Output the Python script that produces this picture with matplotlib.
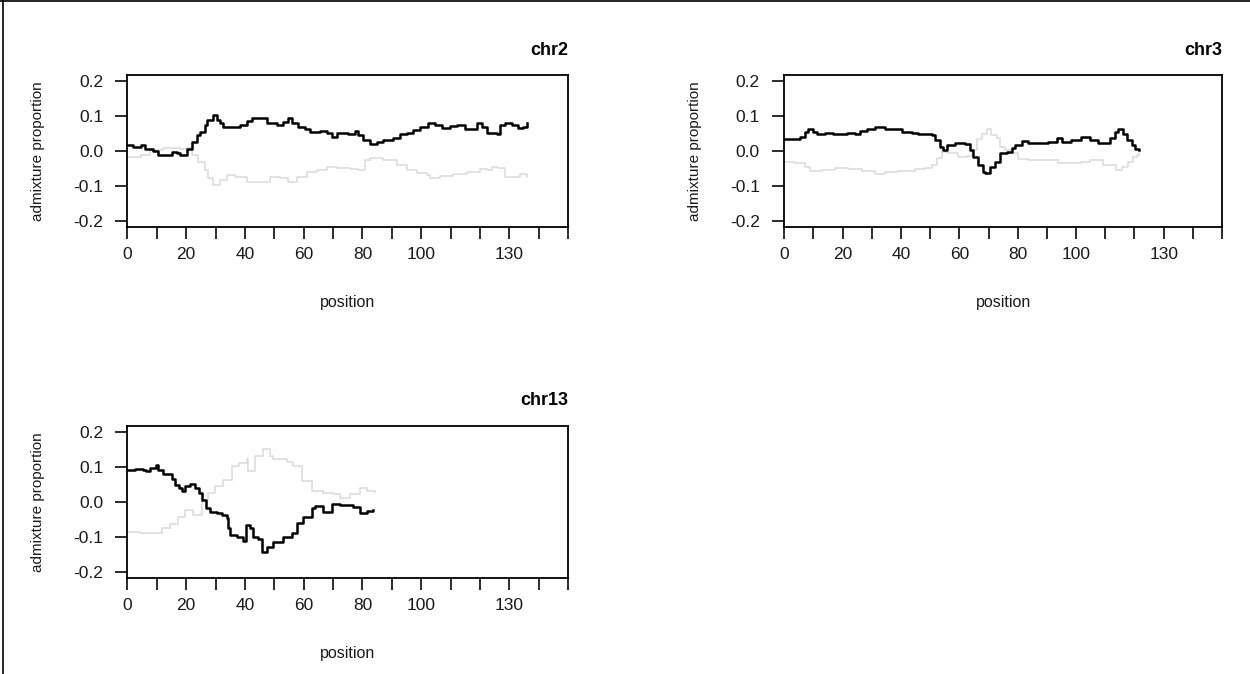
import numpy as np
import matplotlib
matplotlib.use("Agg")
import matplotlib.pyplot as plt
from matplotlib.lines import Line2D

plt.rcParams['font.family'] = ['Liberation Sans', 'DejaVu Sans']

# chr2
chr2_x = [0, 2, 4.5, 6, 8.8, 10.5, 13.3, 15, 16.7, 17.9, 19.6, 20.1, 21.9, 23.6, 24.7, 26.4, 27.2, 29,
          30.4, 31.5, 32.6, 34.9, 38.3, 40.6, 42.3, 45.1, 47.4, 50.8, 53, 54.8, 55.9, 58.2, 60.4, 62.1,
          65.5, 67.8, 69.5, 71.2, 75.2, 77.5, 78.6, 80.3, 82.6, 84.8, 87.1, 90.5, 92.8, 95.1, 97.3, 99.6,
          102.4, 104.7, 107, 109.8, 112.1, 114.9, 117.2, 118.9, 120.6, 122.3, 125.7, 126.8, 128.5, 130.8,
          133, 134.8, 136.1]
chr2_black = [0.017, 0.012, 0.017, 0.005, 0.0, -0.01, -0.01, -0.002, -0.005, -0.01, -0.01, 0.005, 0.027,
              0.046, 0.055, 0.074, 0.09, 0.103, 0.09, 0.079, 0.068, 0.07, 0.074, 0.087, 0.093, 0.093, 0.079,
              0.074, 0.084, 0.093, 0.079, 0.07, 0.062, 0.055, 0.058, 0.052, 0.041, 0.052, 0.05, 0.058, 0.046,
              0.031, 0.02, 0.025, 0.031, 0.036, 0.05, 0.052, 0.06, 0.07, 0.079, 0.074, 0.065, 0.071, 0.074,
              0.062, 0.062, 0.079, 0.07, 0.052, 0.05, 0.074, 0.079, 0.074, 0.067, 0.07, 0.079]
chr2_gx = [0, 4.5, 7.7, 12.2, 17.9, 20, 21.9, 24.1, 26.4, 27.5, 29.2, 31.5, 33.8, 36.6, 40.6, 45.1, 48.5,
           51.9, 54.8, 57.6, 61, 64.4, 67.8, 71.2, 75.8, 78.6, 80.9, 82.6, 87.1, 91.7, 95.1, 98.5, 102,
           103, 106.4, 110.9, 115.5, 117.7, 120, 122.3, 124, 126.3, 128.5, 130.8, 133.6, 136]
chr2_grey = [-0.016, -0.01, 0.003, 0.008, 0.005, 0.008, -0.011, -0.03, -0.054, -0.078, -0.097, -0.083,
             -0.069, -0.075, -0.088, -0.09, -0.075, -0.078, -0.09, -0.073, -0.059, -0.054, -0.047, -0.048,
             -0.052, -0.054, -0.026, -0.021, -0.026, -0.04, -0.054, -0.064, -0.068, -0.078, -0.072, -0.067,
             -0.059, -0.059, -0.052, -0.054, -0.047, -0.048, -0.073, -0.075, -0.067, -0.075]

# chr3
chr3_x = [0, 3.7, 5.4, 7.1, 8, 9.9, 11.1, 13.9, 16.8, 19.7, 21.4, 24.2, 25.9, 28.2, 31.1, 33.3, 34.5, 37.3,
          40.2, 43.6, 45.9, 50.5, 51.6, 53.3, 54.5, 55.6, 58.5, 61.9, 63.6, 64.7, 66.4, 68.2, 68.8, 70.4,
          72.2, 73.9, 76.2, 77.9, 79, 81.3, 83.6, 87, 90.4, 93.3, 95, 98.4, 101.8, 102.4, 104.7, 107.5,
          109.8, 111.5, 113.3, 114.4, 116.1, 117.3, 119, 120.1, 121.6]
chr3_black = [0.033, 0.033, 0.039, 0.055, 0.063, 0.055, 0.05, 0.052, 0.05, 0.048, 0.052, 0.05, 0.058, 0.062,
              0.068, 0.068, 0.062, 0.062, 0.055, 0.052, 0.049, 0.046, 0.031, 0.012, 0.003, 0.017, 0.024,
              0.02, 0.003, -0.016, -0.04, -0.059, -0.064, -0.045, -0.031, -0.007, -0.002, 0.008, 0.017,
              0.03, 0.024, 0.024, 0.026, 0.036, 0.026, 0.031, 0.039, 0.041, 0.031, 0.022, 0.024, 0.036,
              0.055, 0.063, 0.05, 0.031, 0.017, 0.005, 0.003]
chr3_gx = [0, 3.7, 7.1, 8.8, 12.8, 17.4, 22, 26.5, 31.1, 34.5, 39, 44.8, 48.2, 50.5, 52.2, 53.9, 56.2, 59.6,
           62.5, 64.2, 65.9, 67.6, 69.3, 71, 72.8, 73.9, 75.6, 77.9, 80.1, 83.6, 87, 91.5, 93.8, 97.2,
           101.8, 104.7, 109.2, 113.8, 115.6, 117.8, 119.5, 120.7, 121.6]
chr3_grey = [-0.03, -0.035, -0.045, -0.056, -0.054, -0.049, -0.052, -0.056, -0.066, -0.06, -0.056, -0.052,
             -0.048, -0.04, -0.021, -0.002, -0.007, -0.018, -0.013, 0.003, 0.033, 0.05, 0.062, 0.046, 0.036,
             0.012, 0.003, -0.006, -0.024, -0.027, -0.025, -0.027, -0.035, -0.033, -0.03, -0.026, -0.04,
             -0.054, -0.045, -0.03, -0.016, -0.01, -0.005]

# chr13
chr13_x = [0, 2.6, 5.4, 6.2, 7.7, 9.7, 10.5, 12.2, 15, 16.2, 17.6, 18.5, 19.6, 21.3, 23, 24.4, 25.3, 26.7,
           28.1, 30.4, 32.1, 33.8, 34.3, 34.9, 37.2, 39.4, 40.3, 41.7, 42.8, 44.5, 45.7, 47.4, 49.6, 53,
           55.9, 57.6, 59.9, 62.7, 64, 66.7, 69.5, 72.3, 74.6, 76.9, 79.2, 81.4, 83.7]
chr13_black = [0.092, 0.094, 0.092, 0.087, 0.097, 0.104, 0.09, 0.078, 0.065, 0.049, 0.039, 0.03, 0.044,
               0.052, 0.039, 0.025, 0.006, -0.018, -0.028, -0.033, -0.037, -0.047, -0.076, -0.095, -0.1,
               -0.111, -0.066, -0.076, -0.1, -0.107, -0.143, -0.129, -0.114, -0.1, -0.09, -0.061, -0.042,
               -0.018, -0.012, -0.028, -0.006, -0.01, -0.008, -0.015, -0.033, -0.025, -0.023]
chr13_gx = [0, 4.3, 10.7, 11.6, 14.5, 17.3, 19.6, 22.4, 25.3, 27.5, 29.8, 32.6, 35.5, 37.8, 40.6, 41.2,
            43.4, 46.2, 48.5, 49.6, 54.2, 56.5, 59.3, 62.7, 66.7, 70.1, 72.3, 75.8, 79.2, 81.4, 84.2]
chr13_grey = [-0.086, -0.088, -0.09, -0.076, -0.063, -0.042, -0.023, -0.037, 0.006, 0.025, 0.044, 0.063,
              0.102, 0.111, 0.121, 0.087, 0.131, 0.15, 0.131, 0.121, 0.113, 0.102, 0.059, 0.03, 0.025,
              0.022, 0.012, 0.023, 0.039, 0.03, 0.027]

xticks = np.arange(0, 151, 10)
xlabels = {0: '0', 20: '20', 40: '40', 60: '60', 80: '80', 100: '100', 130: '130'}
yticks = [-0.2, -0.1, 0.0, 0.1, 0.2]

W, H = 1250, 674
fig = plt.figure(figsize=(W / 100, H / 100), dpi=100)


def panel(rect, title, bx, by, gx, gy):
    ax = fig.add_axes(rect)
    ax.plot(gx, gy, color='#dadada', lw=1.1, drawstyle='steps-post')
    ax.plot(bx, by, color='black', lw=1.8, drawstyle='steps-post')
    ax.set_xlim(0, 150)
    ax.set_ylim(-0.216, 0.216)
    ax.set_xticks(xticks)
    ax.set_xticklabels([xlabels.get(int(t), '') for t in xticks])
    ax.set_yticks(yticks)
    ax.set_yticklabels(['%.1f' % v for v in yticks])
    ax.tick_params(axis='x', length=8.5, width=1.3, pad=6, labelsize=12.5, colors='#1a1a1a')
    ax.tick_params(axis='y', length=8.5, width=1.3, pad=9, labelsize=12.5, colors='#1a1a1a')
    for s in ax.spines.values():
        s.set_linewidth(1.3)
    ax.set_ylabel('admixture proportion', fontsize=11, va='center', color='#1a1a1a')
    ax.yaxis.set_label_coords(-0.203, 0.5)
    ax.set_xlabel('position', fontsize=11.5, va='center', color='#1a1a1a')
    ax.xaxis.set_label_coords(0.5, -0.5)
    ax.text(1.0, 1.165, title, transform=ax.transAxes, ha='right', va='center',
            fontsize=13, fontweight='bold')
    return ax


def rect(l, r, t, b):
    return [l / W, 1 - b / H, (r - l) / W, (b - t) / H]


panel(rect(127.5, 568, 75.4, 226.6), 'chr2', chr2_x, chr2_black, chr2_gx, chr2_grey)
panel(rect(784.3, 1222, 75.4, 226.6), 'chr3', chr3_x, chr3_black, chr3_gx, chr3_grey)
panel(rect(127.5, 568, 426, 577.6), 'chr13', chr13_x, chr13_black, chr13_gx, chr13_grey)

# frame of the screenshot (left and top edges)
fig.add_artist(Line2D([0.002, 0.002], [0, 1], transform=fig.transFigure, color='black', lw=1.2))
fig.add_artist(Line2D([0, 1], [0.999, 0.999], transform=fig.transFigure, color='black', lw=1.2))

fig.savefig('out.png', dpi=100)
